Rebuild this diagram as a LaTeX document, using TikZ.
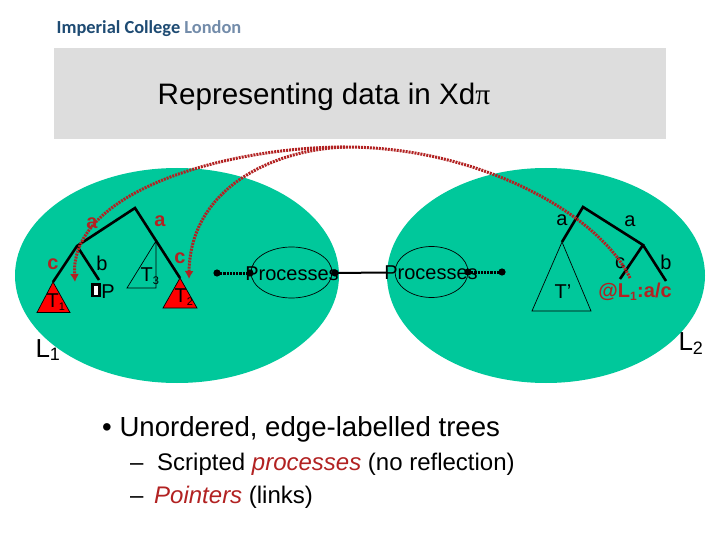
\documentclass[tikz,border=0pt]{standalone}
\usepackage{fontspec}
\usetikzlibrary{shapes.geometric,arrows.meta}
\setmainfont{Liberation Sans}
\newfontfamily\serifpi{Liberation Serif}
\newfontfamily\logofont{Carlito}
\definecolor{landgreen}{RGB}{0,200,155}
\definecolor{linkred}{RGB}{178,34,34}
\definecolor{slidegrey}{RGB}{221,221,221}
\definecolor{logoblue}{RGB}{30,75,115}
\definecolor{logolight}{RGB}{115,140,170}
\newcommand{\fsize}[1]{\fontsize{#1}{#1}\selectfont}
\begin{document}
\begin{tikzpicture}[x=1pt, y=-1pt, every node/.style={font=\fsize{20}, inner sep=0pt},
  edge/.style={line width=2.6pt},
  link/.style={line width=3pt, linkred, dash pattern=on 2pt off 1pt},
  linktip/.style={link, -{Latex[length=8pt,width=9pt]}},
  wire/.style={line width=3pt, dash pattern=on 2.2pt off 1pt},
  tree/.style={draw, line width=.7pt},
  redlabel/.style={linkred, font=\bfseries\fsize{20}}]
  \useasboundingbox (0,0) rectangle (720,540);
  \fill[white] (0,0) rectangle (720,540);
  % header
  \node (logo) at (149,29) {\logofont\bfseries\fsize{18.4}\textcolor{logoblue}{Imperial College} \textcolor{logolight}{London}};
  \fill[slidegrey] (54,48) rectangle (666,139);
  \node (title) at (324,97) {\fsize{29.6}Representing data in Xd{\serifpi π}};
  % the two locations
  \fill[landgreen] (177,275.5) ellipse [x radius=162, y radius=107.5];
  \fill[landgreen] (546,275.5) ellipse [x radius=159, y radius=107.5];
  % left tree
  \coordinate (R1) at (135,208); \coordinate (A1) at (77,246);
  \coordinate (C1) at (53,282); \coordinate (B1) at (99,280);
  \coordinate (C2) at (180,278); \coordinate (M1) at (156,241);
  \draw[edge] (C1)--(A1)--(R1)--(C2) (A1)--(B1);
  \fill[red] (C1)--(37,312.5)--(70,312.5)--cycle;
  \draw[tree] (C1)--(37,312.5)--(70,312.5)--cycle;
  \fill[red] (C2)--(163,308)--(197,308)--cycle;
  \draw[tree] (C2)--(163,308)--(197,308)--cycle;
  \draw[tree] (M1)--(127,288)--(156,288)--cycle;
  \draw[line width=2.6pt, fill=white] (92.5,284.5) rectangle (99.5,296);
  \node (P) at (108,292) {P};
  \node[redlabel] (la1) at (92,223) {a};
  \node[redlabel] (la2) at (160,221) {a};
  \node[redlabel] (lc1) at (53,264) {c};
  \node[redlabel] (lc2) at (180,258) {c};
  \node (lb1) at (102,263) {b};
  \node (T1) at (56,302) {T\textsubscript{\fsize{11}1}};
  \node (T2) at (184,297) {T\textsubscript{\fsize{11}2}};
  \node (T3) at (150,276) {T\textsubscript{\fsize{11}3}};
  \node (L1) at (48,350) {\fsize{26}L\textsubscript{\fsize{18}1}};
  % processes
  \node[draw, ellipse, minimum width=81pt, minimum height=51pt, line width=.7pt] (E1) at (291.5,272.5) {};
  \node[draw, ellipse, minimum width=73pt, minimum height=51pt, line width=.7pt] (E2) at (431.5,272) {};
  \node (P1) at (292,274) {Processes};
  \node (P2) at (431,273) {Processes};
  \coordinate (W1) at (217,273); \coordinate (W2) at (250,273);
  \coordinate (W3) at (335,273); \coordinate (W4) at (387,272.5);
  \coordinate (W5) at (468,272); \coordinate (W6) at (502,272);
  \draw[wire] (W1)--(W2) (W5)--(W6);
  \draw[line width=2pt] (W3)--(W4);
  \foreach \p in {W1,W2,W3,W5,W6} \fill (\p) circle (3.6);
  % right tree
  \coordinate (R2) at (583,207); \coordinate (M2) at (562,242);
  \coordinate (A2) at (643,245); \coordinate (C3) at (620,279);
  \coordinate (B2) at (666,281);
  \draw[edge] (M2)--(R2)--(A2)--(C3) (A2)--(B2);
  \draw[tree] (M2)--(532,311)--(591,311)--cycle;
  \node (la3) at (562,220) {a};
  \node (la4) at (630,221) {a};
  \node (lc3) at (620,263) {c};
  \node (lb2) at (666,262) {b};
  \node (T4) at (563,292) {T’};
  \node (ptr) at (635,292) [redlabel] {@L\textsubscript{\fsize{12}1}:a/c};
  \node (L2) at (691,344) {\fsize{26}L\textsubscript{\fsize{18}2}};
  % links
  \coordinate (H) at (345,147); \coordinate (S) at (630,278);
  \coordinate (E3) at (75,282); \coordinate (E4) at (189,279);
  \draw[link] (S) .. controls (600,215) and (480,147) .. (H);
  \draw[linktip] (H) .. controls (230,147) and (70,190) .. (E3);
  \draw[linktip] (H) .. controls (270,150) and (190,190) .. (E4);
  % bullets
  \node[anchor=west] (item) at (102,429) {\fsize{27.6}• Unordered, edge-labelled trees};
  \node[anchor=west] (sub1) at (130,464) {\fsize{24}–\hspace{7pt} Scripted \textcolor{linkred}{\itshape processes} (no reflection)};
  \node[anchor=west] (sub2) at (130,497) {\fsize{24}–\hspace{4pt} \textcolor{linkred}{\itshape Pointers} (links)};
\end{tikzpicture}
\end{document}
